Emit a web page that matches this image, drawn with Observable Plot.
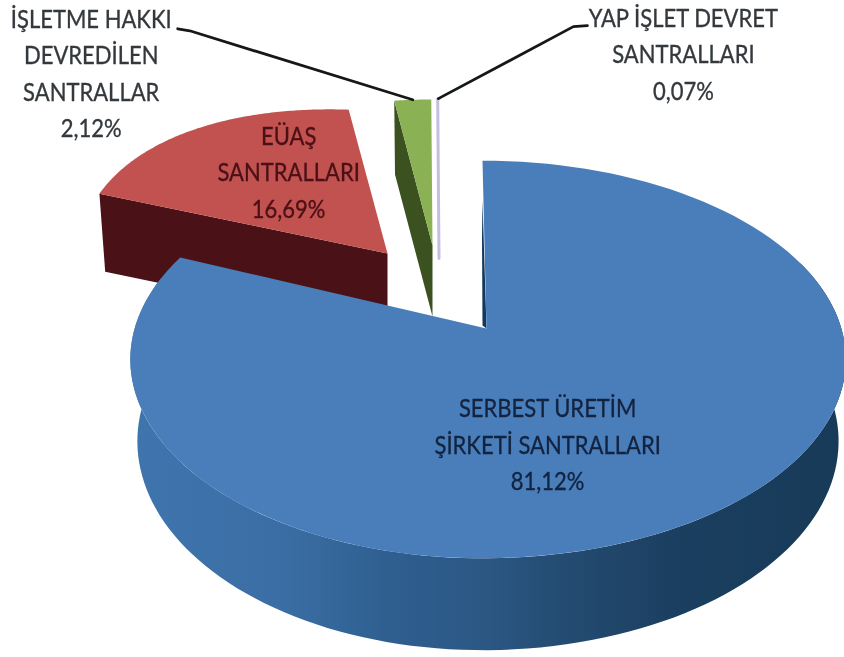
<!DOCTYPE html>
<html>
<head>
<meta charset="utf-8">
<style>html,body{margin:0;padding:0;background:#fff}</style>
<script src="https://cdn.jsdelivr.net/npm/d3@7"></script>
<script src="https://cdn.jsdelivr.net/npm/@observablehq/plot@0.6"></script>
</head>
<body>
<script>
// Data
const categories = ["SERBEST ÜRETİM\nŞİRKETİ SANTRALLARI", "EÜAŞ\nSANTRALLARI", "İŞLETME HAKKI\nDEVREDİLEN\nSANTRALLAR", "YAP İŞLET DEVRET\nSANTRALLARI"];
const shares = [81.12, 16.69, 2.12, 0.07];
const shareLabels = ["81,12%", "16,69%", "2,12%", "0,07%"];

// Pie layout (perspective view of exploded slices)
const persp = 0.171, depthY = 193, radiusRight = 358, radiusLeft = 347;
const layout = [
  {c: [482, 325], sx: 1, sy: 1, bulge: 0, depth: 80, label: [-168, -70], color: "#12233f"},
  {c: [387, 253], sx: 0.953, sy: 0.88, bulge: 0.06, depth: 77, label: [91, 41], color: "#4a1015"},
  {c: [432, 245], sx: 0.94, sy: 0.886, bulge: 0, depth: 71, label: [-321.5, -29], color: "#33383c",
   leader: [[-223, -69], [-235, -71]]},
  {c: [438.5, 258], sx: 1, sy: 0.97, bulge: 0, depth: 0, label: [245, -47], color: "#33383c",
   leader: [[135, -72], [149, -73]]}
];
const arcs = d3.pie().sort(null)(shares);

function rim(i, a) {
  const L = layout[i], A = arcs[i];
  const f = (a - A.startAngle) / (A.endAngle - A.startAngle);
  const b = 1 + L.bulge * Math.sin(Math.PI * Math.min(1, Math.max(0, f)));
  const X = Math.sin(a), Y = Math.cos(a), w = 1 + persp * Y;
  const R = X > 0 ? radiusRight : radiusLeft;
  return {x: L.c[0] + b * L.sx * R * X / w, y: L.c[1] - b * L.sy * depthY * Y / w, w};
}
function lower(i, p, wScale = 1) {
  const L = layout[i];
  const d = wScale ? L.depth / (p.w ?? 1) : L.depth;
  return {x: L.c[0] + 0.98 * (p.x - L.c[0]), y: L.c[1] + 0.98 * (p.y - L.c[1]) + d};
}
function arcPoints(i, a0 = arcs[i].startAngle, a1 = arcs[i].endAngle, n = 120) {
  return d3.range(n + 1).map(t => rim(i, a0 + (a1 - a0) * t / n));
}
const soft = "blur(0.6px)";
const face = (pts, fill) => Plot.line(pts, {x: "x", y: "y", fill, stroke: "none", curve: "linear", imageFilter: soft});
const deg = Math.PI / 180;

// Blue slice
const blueApex = {x: 486, y: 328};
const blueTop = [blueApex, ...arcPoints(0)];
const blueOuter = arcPoints(0, 70 * deg, 285 * deg);
const blueSide = [...blueOuter, ...blueOuter.map(p => lower(0, p)).reverse()];
const blueRim0 = rim(0, 0);
const blueCut = [{x: blueRim0.x, y: blueRim0.y + 40}, {x: blueRim0.x - 0.5, y: blueRim0.y + 75}, {x: blueRim0.x, y: blueApex.y - 3}, blueApex];

// Red slice
const redApex = {x: layout[1].c[0], y: layout[1].c[1]};
const redTop = [redApex, ...arcPoints(1)];
const redRimEnd = rim(1, arcs[1].startAngle);
const redSide = [redRimEnd, lower(1, redRimEnd, 0), lower(1, redApex, 0), redApex];

// Green slice
const greenApex = {x: layout[2].c[0], y: layout[2].c[1]};
const greenTop = [greenApex, ...arcPoints(2)];
const greenRimStart = rim(2, arcs[2].startAngle);
const greenSide = [greenRimStart, lower(2, greenRimStart, 0), lower(2, greenApex, 0), greenApex];

// Thin slice
const thin = [{x: layout[3].c[0], y: layout[3].c[1]}, ...arcPoints(3, undefined, undefined, 4)];

// Labels and leaders hang off each slice's rim midpoint
const mids = arcs.map((A, i) => rim(i, (A.startAngle + A.endAngle) / 2));
const labels = categories.map((name, i) => ({
  text: name + "\n" + shareLabels[i],
  x: mids[i].x + layout[i].label[0],
  y: mids[i].y + layout[i].label[1],
  color: layout[i].color
}));
const leaders = layout.flatMap((L, i) => L.leader
  ? [{x: mids[i].x, y: mids[i].y, i}, ...L.leader.map(o => ({x: mids[i].x + o[0], y: mids[i].y + o[1], i}))]
  : []);

const gradient = () => {
  const ns = "http://www.w3.org/2000/svg";
  const defs = document.createElementNS(ns, "defs");
  const g = document.createElementNS(ns, "linearGradient");
  g.setAttribute("id", "blueSide");
  [[0, "#3f75ae"], [0.22, "#3a6da3"], [0.36, "#2f5f90"], [0.5, "#2b5783"], [0.62, "#234a70"], [0.76, "#1b3f60"], [1, "#173a58"]]
    .forEach(([o, c]) => {
      const s = document.createElementNS(ns, "stop");
      s.setAttribute("offset", o);
      s.setAttribute("stop-color", c);
      g.appendChild(s);
    });
  defs.appendChild(g);
  return defs;
};

const chart = Plot.plot({
  width: 844,
  height: 657,
  margin: 0,
  x: {domain: [0, 844], range: [0, 844], axis: null},
  y: {domain: [0, 657], range: [0, 657], axis: null},
  style: {background: "#fff"},
  marks: [
    gradient,
    face(redSide, "#4a1216"),
    face(redTop, "#c25250"),
    face(greenSide, "#3b5220"),
    face(greenTop, "#8ab254"),
    Plot.line(thin, {x: "x", y: "y", stroke: "#c4bfe0", strokeWidth: 3, fill: "#c4bfe0", imageFilter: soft}),
    face(blueCut, "#12385c"),
    face(blueSide, "url(#blueSide)"),
    face(blueTop, "#4a7ebb"),
    Plot.line(leaders, {x: "x", y: "y", z: "i", stroke: "#14181a", strokeWidth: 2.8, imageFilter: soft}),
    Plot.text(labels, {
      x: "x", y: "y", text: "text", fill: "color", stroke: "color", strokeWidth: 0.35,
      fontFamily: "Lato", fontSize: 25, lineHeight: 1.46, textAnchor: "middle", imageFilter: soft
    })
  ]
});
document.body.appendChild(chart);
// The reference's lettering is condensed: narrow each line while keeping it real text.
chart.querySelectorAll("text tspan").forEach(t => {
  t.setAttribute("textLength", t.getComputedTextLength() * 0.88);
  t.setAttribute("lengthAdjust", "spacingAndGlyphs");
});
</script>
</body>
</html>
